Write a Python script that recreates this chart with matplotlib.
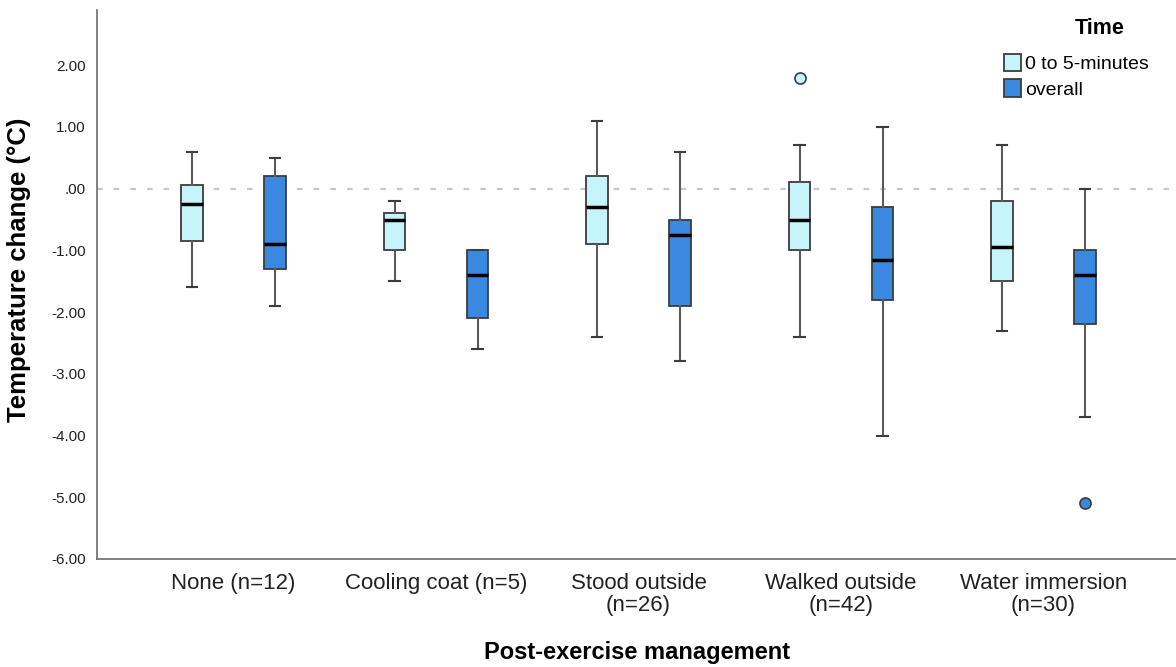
import matplotlib.pyplot as plt
from matplotlib.patches import Patch

plt.rcParams["font.family"] = ["Liberation Sans", "DejaVu Sans"]

groups = ["None (n=12)", "Cooling coat (n=5)", "Stood outside\n(n=26)",
          "Walked outside\n(n=42)", "Water immersion\n(n=30)"]
series = ["0 to 5-minutes", "overall"]

# five-number summaries per group, per series
whislo = {
    "0 to 5-minutes": [-1.6, -1.5, -2.4, -2.4, -2.3],
    "overall": [-1.9, -2.6, -2.8, -4.0, -3.7],
}
q1 = {
    "0 to 5-minutes": [-0.84, -1.0, -0.9, -1.0, -1.5],
    "overall": [-1.3, -2.1, -1.9, -1.8, -2.2],
}
med = {
    "0 to 5-minutes": [-0.25, -0.5, -0.3, -0.5, -0.95],
    "overall": [-0.9, -1.4, -0.75, -1.15, -1.4],
}
q3 = {
    "0 to 5-minutes": [0.06, -0.4, 0.2, 0.1, -0.2],
    "overall": [0.2, -1.0, -0.5, -0.3, -1.0],
}
whishi = {
    "0 to 5-minutes": [0.6, -0.2, 1.1, 0.7, 0.7],
    "overall": [0.5, -1.0, 0.6, 1.0, 0.0],
}
fliers = {
    "0 to 5-minutes": [[], [], [], [1.8], []],
    "overall": [[], [], [], [], [-5.1]],
}

colors = {"0 to 5-minutes": "#c6f4fb", "overall": "#3a88df"}
offsets = {"0 to 5-minutes": -0.205, "overall": 0.205}

fig = plt.figure(figsize=(11.76, 6.67), dpi=100)
ax = fig.add_axes([0.0825, 0.162, 0.9175, 0.823])

ax.axhline(0, color="#c8c8c8", lw=1.6, linestyle=(0, (2.5, 5)), zorder=0)

for s in series:
    stats = []
    for i in range(len(groups)):
        stats.append({
            "whislo": whislo[s][i], "q1": q1[s][i], "med": med[s][i],
            "q3": q3[s][i], "whishi": whishi[s][i], "fliers": fliers[s][i],
        })
    pos = [i + offsets[s] for i in range(len(groups))]
    ax.bxp(
        stats, positions=pos, widths=0.105, capwidths=0.05,
        patch_artist=True, manage_ticks=False,
        boxprops=dict(facecolor=colors[s], edgecolor="#3c3c3c", lw=1.3),
        whiskerprops=dict(color="#5a5a5a", lw=1.5),
        capprops=dict(color="#3c3c3c", lw=1.5),
        medianprops=dict(color="black", lw=2.5),
        flierprops=dict(marker="o", markerfacecolor=colors[s],
                        markeredgecolor="#3c3c3c", markersize=8, mew=1.2),
    )

ax.set_xlim(-0.674, 4.654)
ax.set_ylim(-6, 2.895)
ax.set_xticks(range(len(groups)))
ax.set_xticklabels(groups, fontsize=16, color="#222222", linespacing=1.05)
ax.set_yticks([2, 1, 0, -1, -2, -3, -4, -5, -6])
ax.set_yticklabels(["2.00", "1.00", ".00", "-1.00", "-2.00", "-3.00",
                    "-4.00", "-5.00", "-6.00"], fontsize=11, color="#222222")
ax.tick_params(axis="x", length=0, pad=10)
ax.tick_params(axis="y", length=0, pad=8)

for side in ["top", "right"]:
    ax.spines[side].set_visible(False)
for side in ["left", "bottom"]:
    ax.spines[side].set_color("#6b6b6b")
    ax.spines[side].set_linewidth(1.2)

fig.text(19 / 1176, 1 - 270 / 667, "Temperature change (°C)", fontsize=18.5,
         fontweight="bold", rotation=90, ha="center", va="center")
fig.text(0.5415, 0.022, "Post-exercise management", fontsize=17,
         fontweight="bold", ha="center", va="center")

fig.text(1100 / 1176, 1 - 29 / 667, "Time", fontsize=15.5, fontweight="bold",
         ha="center", va="center")
handles = [Patch(facecolor=colors[s], edgecolor="#3c3c3c", lw=1.3) for s in series]
ax.legend(handles, series, loc="upper left",
          bbox_to_anchor=(1004 / 1176, 1 - 54 / 667),
          bbox_transform=fig.transFigure, frameon=False, fontsize=14,
          handlelength=0.85, handleheight=1.0, handletextpad=0.25,
          labelspacing=0.3, borderpad=0, borderaxespad=0)

fig.savefig("out.png", dpi=100)
